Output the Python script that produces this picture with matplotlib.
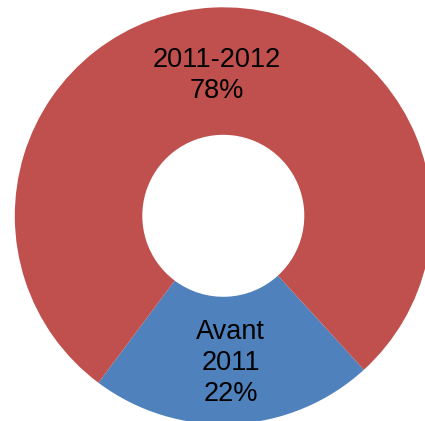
import matplotlib
matplotlib.use("Agg")
import matplotlib.pyplot as plt
import numpy as np

# slice data
labels = ["Avant\n2011\n22%", "2011-2012\n78%"]
values = [22, 78]
colors = ["#4F81BD", "#C0504D"]
label_dist = [0.705, 0.675]

plt.rcParams['font.family'] = ['Liberation Sans', 'DejaVu Sans']

fig = plt.figure(figsize=(4.25, 4.21), dpi=100)
ax = fig.add_axes([0, 0, 1, 1])

cx, cy, R = 223.3, 205.2, 208.5
wedges, _ = ax.pie(values, colors=colors,
                   startangle=233.2, counterclock=True,
                   radius=R, center=(cx, cy),
                   wedgeprops=dict(width=127.5, linewidth=0))
for w, lab, d in zip(wedges, labels, label_dist):
    ang = np.deg2rad((w.theta1 + w.theta2) / 2)
    ax.text(cx + d * R * np.cos(ang), cy + d * R * np.sin(ang), lab,
            ha='center', va='center', fontsize=19.5, linespacing=1.25)

ax.set_xlim(0, 425)
ax.set_ylim(0, 421)
ax.set_aspect('equal')
ax.axis('off')

fig.savefig("out.png", dpi=100)
